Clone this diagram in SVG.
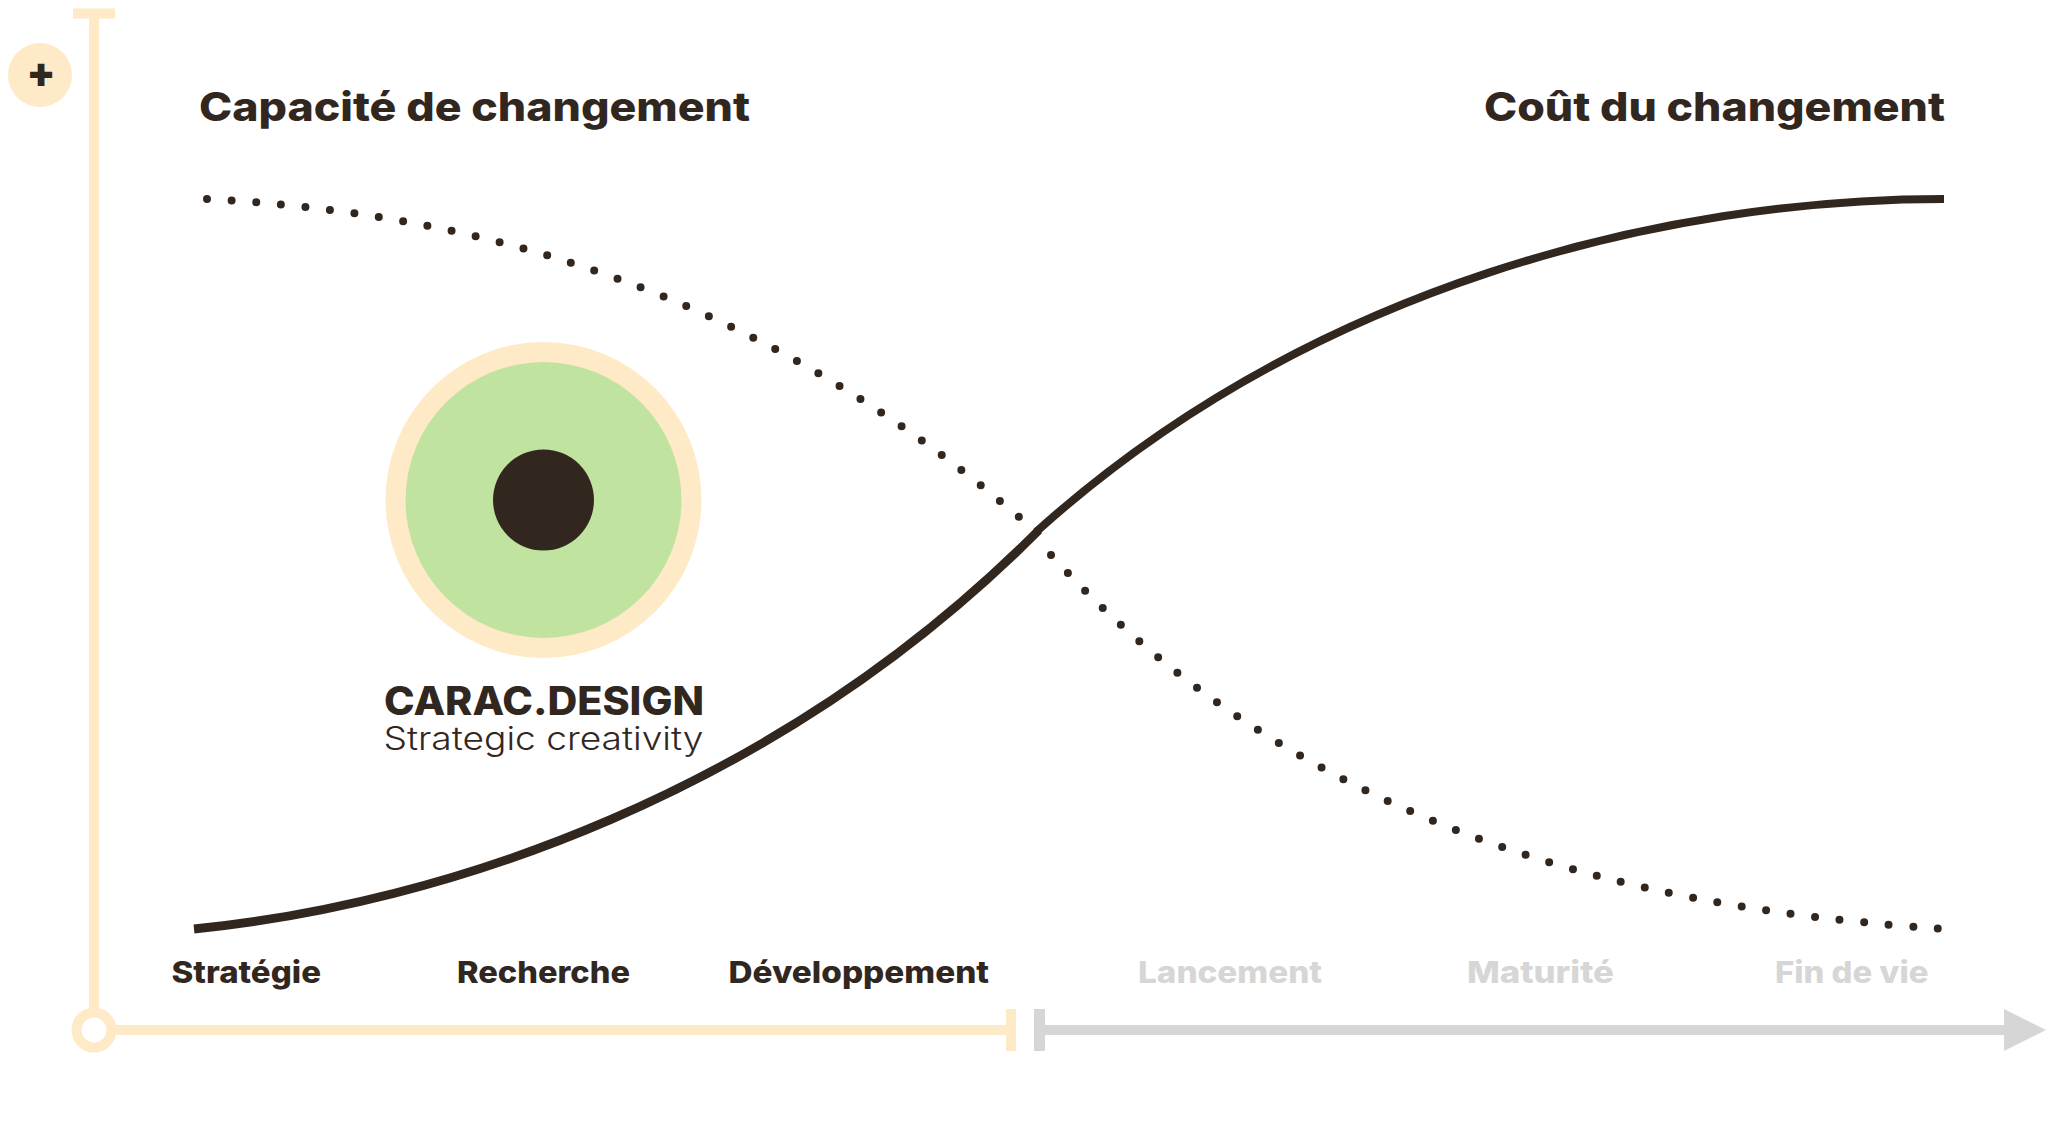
<svg xmlns="http://www.w3.org/2000/svg" width="2052" height="1124" viewBox="0 0 2052 1124">
<style>
.t{font-family:Inter,"Liberation Sans",sans-serif;font-weight:800;fill:#32271f}
.h{font-size:40px}
.l{font-size:30px}
.g{fill:#d6d6d6}
.curve{fill:none;stroke:#32271f}
.dots{fill:none;stroke:#32271f;stroke-width:8;stroke-linecap:round;stroke-dasharray:0 1}
</style>
<rect width="2052" height="1124" fill="#fff"/>
<g id="axes">
<rect x="73" y="8.5" width="42" height="10" fill="#ffeac8"/>
<rect x="89" y="18" width="10" height="991" fill="#ffeac8"/>
<circle cx="94" cy="1030" r="17.5" fill="#fff" stroke="#ffeac8" stroke-width="10"/>
<rect x="116" y="1025" width="890" height="10" fill="#ffeac8"/>
<rect x="1006" y="1009" width="10" height="42" fill="#ffeac8"/>
<rect x="1034" y="1009" width="11" height="42" fill="#d6d6d6"/>
<rect x="1045" y="1025" width="959" height="10" fill="#d6d6d6"/>
<path d="M2004,1009L2046,1030L2004,1051Z" fill="#d6d6d6"/>
</g>
<g id="plus">
<circle cx="40" cy="75" r="32" fill="#ffeac8"/>
<text class="t" x="41" y="87" font-size="42" text-anchor="middle" style="font-weight:900">+</text>
</g>
<g id="connectors">
<path class="dots" pathLength="36.01" d="M207,199C476,213.5 750,286.5 1019,517"/>
<path class="dots" pathLength="40.01" d="M1051,555C1316,846.5 1673,910.5 1938,928.5"/>
<path class="curve" stroke-width="8.8" d="M194,929C444,904 776,794 1039,530"/>
<path class="curve" stroke-width="8" d="M1036,532C1310,285 1665,199 1944,199"/>
</g>
<g id="logo">
<circle cx="543.5" cy="500" r="158" fill="#ffeac8"/>
<circle cx="543.5" cy="500" r="138" fill="#c1e3a0"/>
<circle cx="543.5" cy="500" r="50.5" fill="#32271f"/>
<text class="t" x="384" y="715" font-size="39" textLength="320" lengthAdjust="spacingAndGlyphs">CARAC.DESIGN</text>
<text x="383.5" y="750" font-family="Inter,'Liberation Sans',sans-serif" font-weight="300" font-size="32" fill="#32271f" textLength="320" lengthAdjust="spacingAndGlyphs">Strategic creativity</text>
</g>
<g id="heading-left"><text class="t h" x="199" y="121" textLength="551" lengthAdjust="spacingAndGlyphs">Capacité de changement</text></g>
<g id="heading-right"><text class="t h" x="1484" y="121" textLength="461" lengthAdjust="spacingAndGlyphs">Coût du changement</text></g>
<g id="phase-strategie"><text class="t l" x="171.5" y="983" textLength="149.5" lengthAdjust="spacingAndGlyphs">Stratégie</text></g>
<g id="phase-recherche"><text class="t l" x="457" y="983" textLength="173" lengthAdjust="spacingAndGlyphs">Recherche</text></g>
<g id="phase-developpement"><text class="t l" x="728.5" y="983" textLength="260.5" lengthAdjust="spacingAndGlyphs">Développement</text></g>
<g id="phase-lancement"><text class="t l g" x="1138" y="983" textLength="184" lengthAdjust="spacingAndGlyphs">Lancement</text></g>
<g id="phase-maturite"><text class="t l g" x="1467" y="983" textLength="147" lengthAdjust="spacingAndGlyphs">Maturité</text></g>
<g id="phase-fin"><text class="t l g" x="1775" y="983" textLength="153.5" lengthAdjust="spacingAndGlyphs">Fin de vie</text></g>
</svg>
